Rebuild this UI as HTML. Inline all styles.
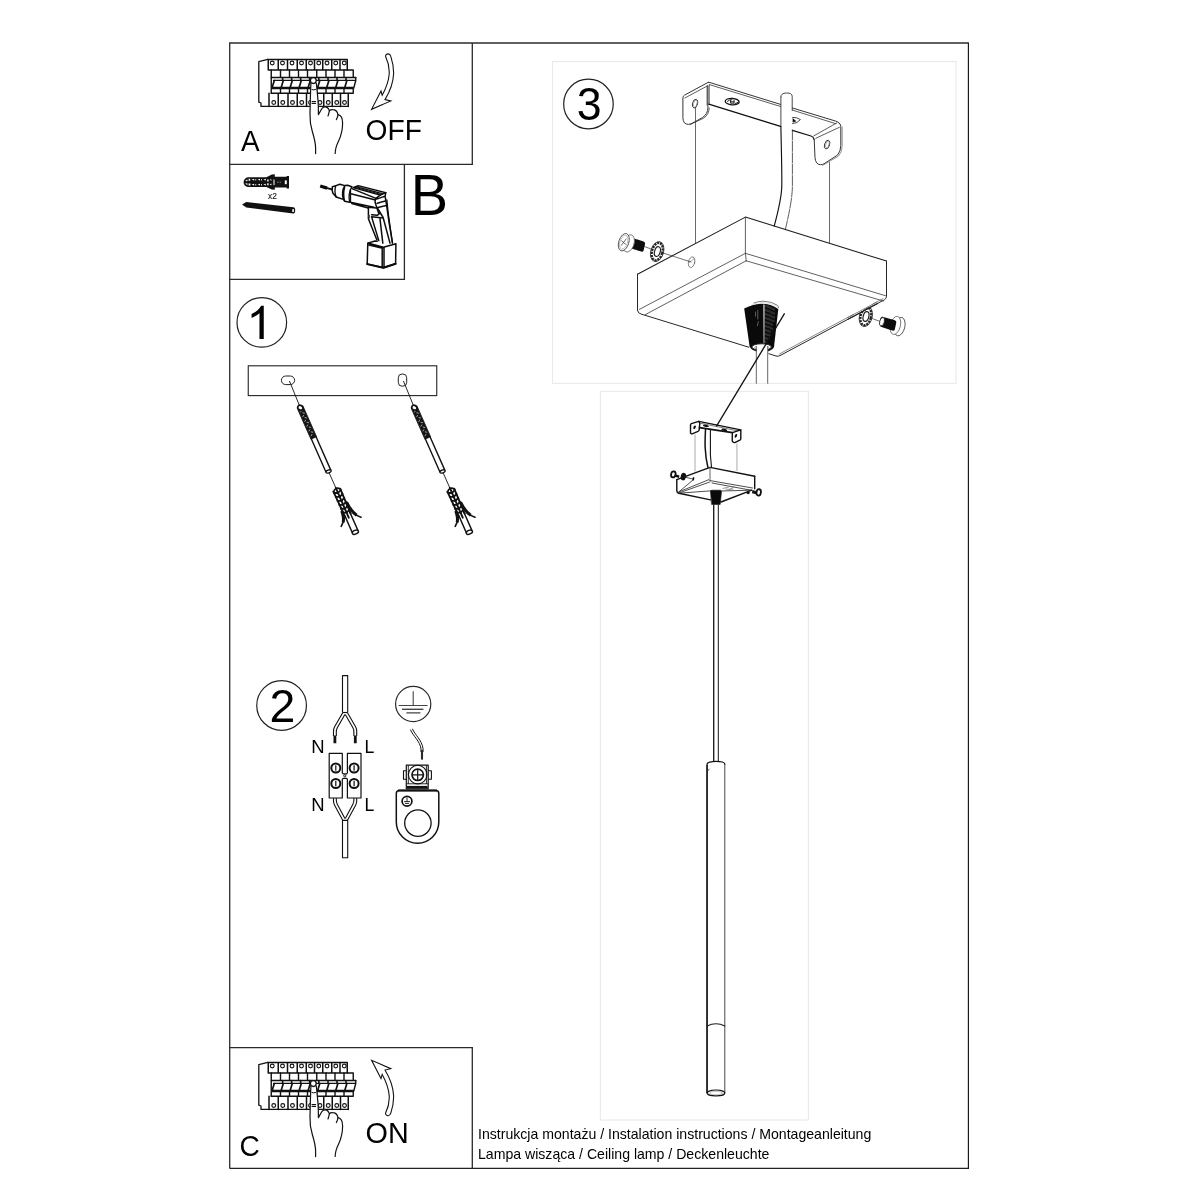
<!DOCTYPE html>
<html lang="pl">
<head>
<meta charset="utf-8">
<title>Instrukcja montażu</title>
<style>
html,body{margin:0;padding:0;background:#fff;}
body{width:1200px;height:1200px;position:relative;overflow:hidden;font-family:"Liberation Sans",sans-serif;color:#000;}
svg{position:absolute;left:0;top:0;will-change:transform;}
.t{will-change:transform;position:absolute;white-space:nowrap;line-height:1;font-family:"Liberation Sans",sans-serif;color:#000;}
</style>
</head>
<body>
<svg width="1200" height="1200" viewBox="0 0 1200 1200" font-family="Liberation Sans, sans-serif">


<!-- ===== FRAME ===== -->
<g id="frame" fill="none" stroke="#333" stroke-width="1.3">
<path d="M968.4 43H229.7V1168.4" stroke="#2c2c2c"/>
<path d="M229.7 1168.4H968.4" stroke="#222" stroke-width="1.25"/>
<path d="M968.4 42.4V1169" stroke="#141414" stroke-width="1.15"/>
<path d="M472.3 43V164.4H229.7 M404.4 164.4V279.3H229.7 M229.7 1047.6H472.3V1168.4" stroke="#2a2a2a"/>
<rect x="552.5" y="61.6" width="403.5" height="321.8" stroke="#e9e9e9" stroke-width="1.1"/>
<rect x="600.4" y="391.4" width="208" height="728.6" stroke="#e9e9e9" stroke-width="1.1"/>
</g>

<!-- ===== PANEL A ===== -->
<g id="panelA">
<text transform="translate(241.00 151.00) scale(0.2798 0.2873)" font-size="100">A</text>
<text transform="translate(365.58 139.84) scale(0.2818 0.2963)" font-size="100">OFF</text>

<g fill="none" stroke="#111" stroke-width="1" stroke-linejoin="round" stroke-linecap="round">
<path d="M267.8 59.4L258.8 61.6V102.2L261 103V106.4H348.2" stroke-width="1.3"/>
<path d="M267.8 59.4H347.25 M268.25 70H347.25 M268.25 59.4V70 M278.25 59.4V70 M287.50 59.4V70 M297.25 59.4V70 M306.25 59.4V70 M314.50 59.4V70 M322.75 59.4V70 M331.75 59.4V70 M340.00 59.4V70 M347.25 59.4V70" stroke-width="1.5"/>
<circle cx="272.25" cy="63" r="1.9" stroke-width="1.1"/>
<circle cx="282.50" cy="63" r="1.9" stroke-width="1.1"/>
<circle cx="292.00" cy="63" r="1.9" stroke-width="1.1"/>
<circle cx="301.50" cy="63" r="1.9" stroke-width="1.1"/>
<circle cx="310.50" cy="63" r="1.9" stroke-width="1.1"/>
<circle cx="318.75" cy="63" r="1.9" stroke-width="1.1"/>
<circle cx="327.00" cy="63" r="1.9" stroke-width="1.1"/>
<circle cx="335.75" cy="63" r="1.9" stroke-width="1.1"/>
<circle cx="344.25" cy="63" r="1.9" stroke-width="1.1"/>
<path d="M347.25 70H353.25 M271.25 77.5H355.75 M271.25 70V77.5 M280.50 70V77.5 M289.50 70V77.5 M298.50 70V77.5 M307.50 70V77.5 M316.75 70V77.5 M326.00 70V77.5 M335.00 70V77.5 M344.00 70V77.5 M353.25 70V77.5" stroke-width="1.4"/>
<path d="M271.25 77.5V93.3 M355.75 77.5V80.5L353.75 88" stroke-width="1.4"/>
<path d="M273.5 80.4H355.5" stroke-width="1.2"/>
<path d="M271.5 88H353.75" stroke-width="2.4" stroke-linecap="butt"/>
<path d="M282.60 77.5V80.4 M291.60 77.5V80.4 M300.60 77.5V80.4 M309.60 77.5V80.4 M318.80 77.5V80.4 M328.00 77.5V80.4 M337.00 77.5V80.4 M346.00 77.5V80.4" stroke-width="1.6"/>
<path d="M272.30 87L274.30 80.5 M281.30 87L283.30 80.5 M290.30 87L292.30 80.5 M299.30 87L301.30 80.5 M308.30 87L310.30 80.5 M317.80 87L319.80 80.5 M326.90 87L328.90 80.5 M335.90 87L337.90 80.5 M344.90 87L346.90 80.5" stroke-width="1.7"/>
<path d="M271.25 93.3H353.25V89 M280.50 89V93.3 M289.50 89V93.3 M298.50 89V93.3 M307.50 89V93.3 M316.75 89V93.3 M326.00 89V93.3 M335.00 89V93.3 M344.00 89V93.3" stroke-width="1.4"/>
<path d="M269 93.3V106.4 M278.25 93.6V106.4 M288.00 93.6V106.4 M297.25 93.6V106.4 M306.50 93.6V106.4 M323.75 93.6V106.4 M332.25 93.6V106.4 M340.50 93.6V106.4 M348.25 93.6V106.4" stroke-width="1.5"/>
<circle cx="273.75" cy="102.5" r="1.9" stroke-width="1.1"/>
<circle cx="282.75" cy="102.5" r="1.9" stroke-width="1.1"/>
<circle cx="292.50" cy="102.5" r="1.9" stroke-width="1.1"/>
<circle cx="301.75" cy="102.5" r="1.9" stroke-width="1.1"/>
<circle cx="320.00" cy="102.5" r="1.9" stroke-width="1.1"/>
<circle cx="328.25" cy="102.5" r="1.9" stroke-width="1.1"/>
<circle cx="336.75" cy="102.5" r="1.9" stroke-width="1.1"/>
<circle cx="344.50" cy="102.5" r="1.9" stroke-width="1.1"/>
<path d="M310.9 82.5C310.5 92 310.2 104 310 114C309.8 121 310.6 126 312.2 131C314 137 315.6 143 315.6 148V153.6L335.2 153.4C335.2 149 336.6 145 338.6 141C341 136 342.6 130 342.6 123C342.6 118 341 115.2 338 114.6C337.4 111.6 335.4 109.4 332.4 109.6C331 109.6 330 110 329.4 110.8C328.4 108 326.4 106.6 324.2 106.8C322.8 107 322 108 321.4 109.2L318.4 114.4L318.3 106C318 98 317 90 316.4 83" fill="#fff" stroke="none"/>
<path d="M310.9 83C310.5 92 310.2 104 310 114C309.8 121 310.6 126 312.2 131C314 137 315.6 143 315.6 148V153.6" stroke-width="1.2"/>
<path d="M316.3 83C317 90 318 98 318.3 106L318.4 114.6L321.6 109C322.4 107.6 323.4 106.8 324.6 106.8C326.8 106.6 328.6 108.2 329.4 110.8C329 112.6 328.6 114.4 328 116" stroke-width="1.2"/>
<path d="M329.4 110.8C330.2 109.8 331.2 109.5 332.6 109.6C335.4 109.6 337.4 111.8 338 114.6C337.8 116.4 337.2 118 336.4 119.6" stroke-width="1.2"/>
<path d="M338 114.6C341 115.2 342.6 118.4 342.6 123C342.6 130 341 136 338.6 141C336.6 145 335.2 149 335.2 153.4" stroke-width="1.2"/>
<circle cx="313.3" cy="80.6" r="2.9" fill="#fff" stroke-width="1.3"/>
<path d="M312 89.6Q313.7 90.3 315.6 89.5" stroke-width="1"/>
<path d="M312 101.6H315.6M312 103.5H315.6" stroke-width="1.1"/>
<path d="M310 100.6A2 2 0 0 0 310 104.4" stroke-width="1.1"/>
</g>
<path d="M385.6 56.6C385.4 54.6 387 53.8 388.2 53.9C389.6 54 390.4 55 390.8 56.4C392.6 62 393.8 68 393.6 74C393.2 83 389.6 92 385 99.6L390.8 100.9L371.6 109.3L381 91L382.2 95.2C385.6 89 388.6 82 389.2 74C389.6 68 388 61.6 385.6 56.6Z" fill="none" stroke="#111" stroke-width="1.1" stroke-linejoin="miter"/>
</g>

<!-- ===== PANEL B ===== -->
<g id="panelB">
<text transform="translate(410.63 215.25) scale(0.5595 0.5724)" font-size="100">B</text>
<text x="268.1" y="199.2" font-size="8.3" fill="#222" stroke="#222" stroke-width="0.15">x2</text>

<g id="plug" fill="#111" stroke="none" transform="translate(0 0.2)">
<path d="M243.6 182C243.6 179.4 245.4 177.4 248 177H266.4L271.8 174.4L274.8 174V176.6H286.6V175.8H289V188.2H286.6V187.4H274.8V189.6L271.8 189.4L266.4 186.9H248C245.4 186.6 243.6 184.6 243.6 182Z"/>
<g fill="#fff">
<rect x="273.3" y="179.3" width="1.4" height="5.6" fill="#bbb"/>
<rect x="284.8" y="180.2" width="2" height="3.8"/>
<path d="M245.2 180.8l2.2-1.8v2zM245.2 183.2l2.2 1.8v-2zM248.6 178.6h1.6v2h-1.6zM248.6 183.4h1.8v2h-1.8zM251.6 179.6l2.6-1v1.8zM251.6 184.4l2.6 1v-1.8zM255.4 178.8h.8v1.6h-.8zM255.4 183.8h.8v1.4h-.8zM257.6 179.6l2.4-1v1.8zM257.6 184.4l2.4 1v-1.8zM261.2 178.8h.8v1.6h-.8zM261.2 183.8h.8v1.4h-.8zM263.4 179.6l2.4-1v1.8zM263.4 184.4l2.4 1v-1.8zM267.2 179.2h1.4v2.2h-1.4zM267.2 183h1.4v2h-1.4zM269.6 179.6l1.8-.6v1.6zM269.6 184.4l1.8.6v-1.6z"/>
</g>
<path d="M277 181.3h.7v1.6h-.7zM278.6 181.3h.7v1.6h-.7zM280.2 181.3h.7v1.6h-.7z" fill="#777"/>
</g>
<g id="bscrew">
<path d="M242.2 204.4L246.2 202L293.4 207.2C294.6 207.4 295.1 208.2 295.1 209.4V211.6C295.1 212.8 294.4 213.5 293.2 213.4L246.4 207.4L242.2 204.8Z" fill="#111"/>
<rect x="292.3" y="209.1" width="1.6" height="2.9" fill="#fff"/>
</g>

<g id="drill" fill="none" stroke="#0c0c0c" stroke-width="1.5" stroke-linejoin="round" stroke-linecap="round">
<path d="M320.2 186L327 188.1" stroke-width="3.4" stroke-linecap="butt"/>
<path d="M327 188.1L332.2 189.4" stroke-width="1.8"/>
<!-- chuck -->
<path d="M332.4 186.8Q331.6 190 332.8 193L336.2 197L343.3 199.4L344.7 201.2L349.7 202.3 M332.4 186.8L335.9 185.6L339.8 184.2L344.7 185.6L347.6 185.3L351.8 186.7"/>
<path d="M335.9 185.6Q333.8 191 336.2 197 M344.7 185.6Q341 192 343.3 199.4 M344.7 187Q342.8 194 344.7 201.2 M351.8 186.7Q347.6 194 349.7 202.3" stroke-width="1.3"/>
<!-- body -->
<path d="M350.4 190V202.3L373.8 207.2 M351.8 203.6L368.1 207.9 M350.8 193.8L374.5 199.8 M352 188.6L375.9 198.4"/>
<path d="M353.2 187.7L358.2 185.6L385.8 192.7L380.2 195.2Z M356 186.6L383 193.9" stroke-width="1.4"/>
<path d="M354.6 187.2L381.6 194.6" stroke-width="1"/>
<!-- rear -->
<path d="M375.9 198.4L380.2 195.2 M385.8 192.7L385.1 196.2L386.5 204.7L389.4 224.6L392.5 243 M376.6 199.1L385.1 196.2 M377.3 203.3L385.8 200.8 M378 207.6L386.2 205.5 M375.9 198.4Q374.8 200.6 375.2 202.6L376.6 206.9L378.7 213.2"/>
<path d="M386.9 200L388.1 212.5L392.4 242.8" stroke-width="1.3"/>
<!-- handle -->
<path d="M368.4 206.9V218.7L376.9 240 M369.1 207.2L376.2 208.1L377.5 208.1L383.1 217.5L390 243.1 M371.6 214.7L377.5 215.3L380 213.1 M371.6 216.7L383.1 218.1 M371.6 216.9L378.8 240.6 M380 218.8L382.8 243.1"/>
<path d="M368.6 214.6L370 215V218.6L368.6 218.2Z" fill="#555" stroke="none"/>
<!-- battery -->
<path d="M367.8 243.1L367.2 264.1L383.4 267.8L395.6 263.8L395.9 243.7L383.4 247.2L367.8 243.1L375 241L377.2 241.2 M384 247.2V267.6 M382.2 247V267.4 M369 245L382.5 248.2"/>
<path d="M367.2 264.1L383.4 267.8L395.6 263.8" stroke-width="2"/>
</g>
</g>

<!-- ===== STEP 1 ===== -->
<g id="step1">
<circle cx="261.8" cy="322.4" r="24.8" fill="none" stroke="#222" stroke-width="1.2"/>
<path transform="translate(246.57 338.9) scale(0.02252 -0.02252)" d="M763 0H573V1147Q518 1085 412 1023Q307 961 223 930V1104Q374 1175 487 1276Q600 1377 647 1472H763Z"/>

<rect x="248.25" y="365.8" width="188.5" height="29.8" fill="none" stroke="#222" stroke-width="1.1"/>
<rect x="281.4" y="376" width="13.2" height="8.6" rx="4.3" ry="4.3" fill="none" stroke="#222" stroke-width="1"/>
<rect x="398.3" y="374" width="8.4" height="12.2" rx="3.8" ry="3.8" fill="none" stroke="#222" stroke-width="1"/>
<g fill="none" stroke="#111" stroke-width="1" stroke-linejoin="round" stroke-linecap="round">
<path d="M289.6 381.4L300.00 406.90 M328.31 470.92 L335.99 488.30" stroke-width="0.9"/>
<path d="M303.64 407.48 L316.58 436.74 L310.91 439.25 L297.97 409.98 Z" fill="#141414" stroke="#141414" stroke-width="0.8"/>
<path d="M301.43 410.64 L300.61 411.99 M302.85 412.86 L304.40 413.15 M303.54 415.40 L302.71 416.74 M304.95 417.61 L306.51 417.91 M305.64 420.15 L304.81 421.50 M307.06 422.37 L308.61 422.66 M307.74 424.91 L306.92 426.26 M309.16 427.12 L310.71 427.42 M309.85 429.66 L309.02 431.01 M311.26 431.88 L312.82 432.18 M311.95 434.42 L311.12 435.77" stroke="#ddd" stroke-width="0.7"/>
<ellipse cx="300.36" cy="407.72" rx="2.7" ry="2.3" transform="rotate(24 300.36 407.72)" fill="#fff" stroke="#141414" stroke-width="1.7"/>
<path d="M316.13 436.94 L330.68 469.87 M311.37 439.05 L325.93 471.97" stroke-width="1.4"/>
<ellipse cx="328.55" cy="471.47" rx="2.7" ry="1.4" transform="rotate(-20 328.55 471.47)" fill="#fff" stroke-width="1.3"/>
<path d="M349.65 511.78 L357.74 530.07 M344.97 516.04 L352.45 532.96" stroke-width="1.5"/>
<ellipse cx="355.40" cy="532.20" rx="3.2" ry="1.9" transform="rotate(-22 355.40 532.20)" fill="#fff" stroke-width="1.4"/>
<path d="M340.18 488.63 L350.64 513.53 M335.83 487.93 L348.75 517.65 M333.41 491.62 L345.19 517.03" stroke-width="1.9"/>
<path d="M340.34 489.00 Q335.18 486.47 333.57 491.99" stroke-width="1.7"/>
<path d="M340.79 490.00 L338.05 492.96 M334.02 493.00 L338.05 492.96 M342.53 493.94 L339.79 496.90 M335.76 496.93 L339.79 496.90 M344.27 497.87 L341.53 500.83 M337.50 500.86 L341.53 500.83 M346.00 501.80 L343.27 504.76 M339.24 504.79 L343.27 504.76 M347.74 505.74 L345.01 508.69 M340.97 508.73 L345.01 508.69 M349.48 509.67 L346.74 512.63 M342.71 512.66 L346.74 512.63" stroke-width="1.8"/>
<path d="M346.52 502.23 Q350.93 511.21 356.65 515.25" stroke-width="3" stroke-linecap="butt"/>
<path d="M353.42 513.39 Q356.89 515.79 361.03 517.24" stroke-width="1.7"/>
<path d="M341.72 510.91 Q344.28 517.44 343.15 522.31" stroke-width="3" stroke-linecap="butt"/>
<path d="M344.01 519.30 Q343.03 523.02 341.21 526.33" stroke-width="1.7"/>
</g>
<g fill="none" stroke="#111" stroke-width="1" stroke-linejoin="round" stroke-linecap="round" transform="translate(114 0)">
<path d="M289.6 381.4L300.00 406.90 M328.31 470.92 L335.99 488.30" stroke-width="0.9"/>
<path d="M303.64 407.48 L316.58 436.74 L310.91 439.25 L297.97 409.98 Z" fill="#141414" stroke="#141414" stroke-width="0.8"/>
<path d="M301.43 410.64 L300.61 411.99 M302.85 412.86 L304.40 413.15 M303.54 415.40 L302.71 416.74 M304.95 417.61 L306.51 417.91 M305.64 420.15 L304.81 421.50 M307.06 422.37 L308.61 422.66 M307.74 424.91 L306.92 426.26 M309.16 427.12 L310.71 427.42 M309.85 429.66 L309.02 431.01 M311.26 431.88 L312.82 432.18 M311.95 434.42 L311.12 435.77" stroke="#ddd" stroke-width="0.7"/>
<ellipse cx="300.36" cy="407.72" rx="2.7" ry="2.3" transform="rotate(24 300.36 407.72)" fill="#fff" stroke="#141414" stroke-width="1.7"/>
<path d="M316.13 436.94 L330.68 469.87 M311.37 439.05 L325.93 471.97" stroke-width="1.4"/>
<ellipse cx="328.55" cy="471.47" rx="2.7" ry="1.4" transform="rotate(-20 328.55 471.47)" fill="#fff" stroke-width="1.3"/>
<path d="M349.65 511.78 L357.74 530.07 M344.97 516.04 L352.45 532.96" stroke-width="1.5"/>
<ellipse cx="355.40" cy="532.20" rx="3.2" ry="1.9" transform="rotate(-22 355.40 532.20)" fill="#fff" stroke-width="1.4"/>
<path d="M340.18 488.63 L350.64 513.53 M335.83 487.93 L348.75 517.65 M333.41 491.62 L345.19 517.03" stroke-width="1.9"/>
<path d="M340.34 489.00 Q335.18 486.47 333.57 491.99" stroke-width="1.7"/>
<path d="M340.79 490.00 L338.05 492.96 M334.02 493.00 L338.05 492.96 M342.53 493.94 L339.79 496.90 M335.76 496.93 L339.79 496.90 M344.27 497.87 L341.53 500.83 M337.50 500.86 L341.53 500.83 M346.00 501.80 L343.27 504.76 M339.24 504.79 L343.27 504.76 M347.74 505.74 L345.01 508.69 M340.97 508.73 L345.01 508.69 M349.48 509.67 L346.74 512.63 M342.71 512.66 L346.74 512.63" stroke-width="1.8"/>
<path d="M346.52 502.23 Q350.93 511.21 356.65 515.25" stroke-width="3" stroke-linecap="butt"/>
<path d="M353.42 513.39 Q356.89 515.79 361.03 517.24" stroke-width="1.7"/>
<path d="M341.72 510.91 Q344.28 517.44 343.15 522.31" stroke-width="3" stroke-linecap="butt"/>
<path d="M344.01 519.30 Q343.03 523.02 341.21 526.33" stroke-width="1.7"/>
</g>
</g>

<!-- ===== STEP 2 ===== -->
<g id="step2">
<circle cx="281.6" cy="705.45" r="24.85" fill="none" stroke="#222" stroke-width="1.2"/>
<text transform="translate(269.57 721.90) scale(0.4640 0.4679)" font-size="100">2</text>

<g fill="none" stroke="#111" stroke-width="1.1" stroke-linecap="butt" stroke-linejoin="round">
<!-- top cable -->
<path d="M342.5 712.6V675.6H347.7V712.6"/>
<!-- split wires (double lines) -->
<path d="M342.5 712.5H347.7"/>
<path d="M342.7 712.8L334.6 726.8Q333.5 728.8 333.5 731V736 M344.9 714.4L337.3 727.8Q336.3 729.6 336.3 732V736"/>
<path d="M347.5 712.8L355.6 726.8Q356.7 728.8 356.7 731V736 M345.3 714.4L352.9 727.8Q353.9 729.6 353.9 732V736"/>
<path d="M334.9 735.4V743.2 M355.3 735.4V743.2" stroke-width="2.8"/>
<!-- connector block -->
<path d="M342.3 772.8V753.4H329.2V798H342.3V779.2L343.4 778.3H346.4L347.4 779.2V798H361V753.4H347.4V772.8L346.6 773.8H343.2Z" stroke-width="1.2"/>
<circle cx="344.8" cy="775.8" r="1.1" stroke-width="0.9"/>
<g stroke-width="2">
<circle cx="335.8" cy="768" r="4.5"/><circle cx="354.1" cy="768" r="4.5"/>
<circle cx="335.8" cy="783.5" r="4.5"/><circle cx="354.1" cy="783.5" r="4.5"/>
</g>
<path d="M335.8 765.2V770.8M354.1 765.2V770.8M335.8 780.7V786.3M354.1 780.7V786.3" stroke-width="1.2"/>
<!-- bottom wires -->
<path d="M333.5 798V801Q333.5 803.2 334.6 805.2L342.7 820.2 M336.3 798V800Q336.3 802.4 337.3 804.2L344.9 818.6"/>
<path d="M356.7 798V801Q356.7 803.2 355.6 805.2L347.5 820.2 M353.9 798V800Q353.9 802.4 352.9 804.2L345.3 818.6"/>
<path d="M342.5 857.7V820.4H347.7V857.7Z"/>
<!-- earth wire -->
<path d="M410.4 729.6C413 736 420 741 421 749V752 M412.4 728.8C415 735 421.8 740 423 748.4V752" stroke-width="1"/>
<path d="M422 750V759.6" stroke-width="2.1" stroke="#2a2a2a"/>
<!-- earth terminal -->
<rect x="406.3" y="765.2" width="21.9" height="23.6" stroke-width="1.2"/>
<path d="M406.3 770.7H403.5V779.2H406.3 M428.2 770.7H431.4V779.2H428.2" stroke-width="1.1"/>
<circle cx="417.7" cy="774.6" r="9.3" stroke-width="1.1"/>
<circle cx="417.7" cy="774.8" r="5.7" stroke-width="1.7"/>
<path d="M417.7 769.6V780M412.5 774.8H422.9" stroke-width="1.2"/>
<path d="M407 787.2H427.6" stroke-width="2.6"/>
<path d="M407 783.8H428" stroke-width="0.9"/>
<path d="M408.3 765.2V784M426.4 765.2V784" stroke-width="0.9"/>
<!-- lug -->
<path d="M399.4 790.4H435.8Q438.8 790.4 438.8 793.4V822A21.25 21.25 0 0 1 396.3 822V793.4Q396.3 790.4 399.4 790.4Z" stroke-width="1.5"/>
<path d="M398 790.4H437" stroke-width="2"/>
<circle cx="417.9" cy="823.1" r="13.2" stroke-width="1.3"/>
<circle cx="407" cy="801.2" r="4.9" stroke-width="1.7"/>
<path d="M407 797.6V801.4M404 801.6H410M405 803.4H409" stroke-width="0.9"/>
</g>
<!-- earth symbol -->
<g fill="none" stroke="#444" stroke-width="1.1">
<circle cx="413.2" cy="704" r="17.6" stroke="#2a2a2a" stroke-width="1.2"/>
<path d="M413.2 691.3V705.5M398.6 705.5H427.6M406.4 712.9H420.4"/>
<path d="M402 709.3H423.4" stroke-width="1.4"/>
</g>
<text transform="translate(311.26 752.70) scale(0.1849 0.1835)" font-size="100">N</text>
<text transform="translate(364.42 752.70) scale(0.1766 0.1835)" font-size="100">L</text>
<text transform="translate(311.26 811.40) scale(0.1849 0.1835)" font-size="100">N</text>
<text transform="translate(364.42 811.40) scale(0.1766 0.1835)" font-size="100">L</text>
</g>

<!-- ===== STEP 3 ===== -->
<g id="step3">
<circle cx="588.45" cy="104" r="24.8" fill="none" stroke="#222" stroke-width="1.2"/>
<text transform="translate(576.85 119.78) scale(0.4470 0.4626)" font-size="100">3</text>

<g fill="none" stroke="#333" stroke-width="0.9" stroke-linecap="round" stroke-linejoin="round">
<!-- guide lines -->
<path d="M695.5 107.5V242.8 M829.5 162.5V243" stroke="#444" stroke-width="0.8"/>
<!-- bracket: left tab -->
<path d="M708.3 82.3L684.4 95.2Q682.9 96 682.9 98V117.6Q683 124.6 688.6 124.3Q690.4 124.1 692 123.4L702.4 117.6Q707.9 114 707.9 107.6V86" stroke-width="1"/>
<path d="M707.6 85.8L684.9 98 M690 124.6L703.4 118.3Q709.2 114.6 709.2 107.8" stroke-width="0.8"/>
<path d="M707.1 86V105 M709.2 85V104.4" stroke-width="0.8"/>
<ellipse cx="695" cy="103.7" rx="2.5" ry="4.4" transform="rotate(14 695 103.7)" stroke-width="0.9"/>
<ellipse cx="695.3" cy="103.7" rx="1.7" ry="3.6" transform="rotate(14 695.3 103.7)" stroke-width="0.6" stroke="#888"/>
<!-- bracket: top plate -->
<path d="M708.3 82.3Q710 82.4 712 83.2L780.6 104.4 M792.4 108L835.4 121Q837.6 121.6 838.6 122.6" stroke-width="1"/>
<path d="M709.4 84.6L780.6 106.5 M792.4 110.1L835.8 123.7" stroke-width="0.8"/>
<path d="M708.8 104.2L780.5 126.3 M792.4 130.4L811 136Q813.6 136.8 814.2 139.6" stroke="#111" stroke-width="1.3"/>
<!-- bracket: right tab -->
<path d="M814.2 139.6L815 157.6Q815.6 164.6 820.6 164.7Q822.4 164.6 824 163.8L837.4 155.2Q840.8 151.6 840.8 145.4V126.4Q840.6 123.6 838.6 122.6" stroke-width="1"/>
<path d="M813.8 135.9L836.8 122.9 M815.8 138.3L839.4 127.3" stroke-width="0.8"/>
<path d="M822.6 165.4L838.4 156.2Q842.2 152.4 842.2 145.8V127" stroke-width="0.7" stroke="#666"/>
<ellipse cx="827.1" cy="144.6" rx="2.5" ry="4.5" transform="rotate(18 827.1 144.6)" stroke-width="0.9"/>
<ellipse cx="827.4" cy="144.6" rx="1.6" ry="3.6" transform="rotate(18 827.4 144.6)" stroke-width="0.6" stroke="#888"/>
<!-- slots -->
<ellipse cx="732.2" cy="101.6" rx="7" ry="3.2" transform="rotate(4 732.2 101.6)" stroke="#111" stroke-width="1.3"/>
<path d="M727.4 101.4Q729 99.6 732 99.6 M730.6 100.2V103.2H734V100.2 M730.6 101.8H734 M735 103.6Q737.6 103 738.4 101.8" stroke="#111" stroke-width="0.9"/>
<path d="M792.6 117.4Q797 117 800.4 119.6Q797.6 123.4 792.6 123.6" stroke-width="0.9"/>
<path d="M792.6 118L796.4 121.2L792.6 122.6Z" fill="#111" stroke="none"/>
<!-- cable -->
<path d="M780.9 97Q780.6 93.2 786.4 93T792.2 96.4V110.4" stroke-width="0.9"/>
<path d="M780.9 97V126.6" stroke-width="0.9"/>
<path d="M780.9 126.6C781.2 146 782 168 781.8 186C781.6 198 778 212 774.2 226.2" stroke="#111" stroke-width="1.15"/>
<path d="M792.4 130V186C792.4 198 789 214 785.4 229.2" stroke-width="0.8" stroke-dasharray="10 1.4"/>
<!-- canopy outer -->
<path d="M637.5 274.2L745.4 217.1L886.5 261.1" stroke="#1c1c1c" stroke-width="1.05"/>
<path d="M637.5 274.2V310Q637.6 313.2 641.2 314.1L748.8 347.2 M768.8 353.7L776 356Q778.4 356.6 780 355.6L884.4 299.8Q886.5 298.6 886.5 296.4V261.1" stroke="#262626" stroke-width="1"/>
<path d="M779.4 354L883 298.6" stroke="#555" stroke-width="0.7"/>
<!-- canopy inner -->
<path d="M745.4 217.1V253.3L746.2 260.8 M745.4 253.3L639.4 309.4 M746.2 260.8L645.3 314.6 M745.4 253.3L886 295.9 M746.2 260.8L883.4 301" stroke="#444" stroke-width="0.85"/>
<!-- hole in left face -->
<ellipse cx="691.6" cy="262.2" rx="3.1" ry="5.4" transform="rotate(14 691.6 262.2)" stroke="#666" stroke-width="0.8"/>
<path d="M688.8 262.8L694.2 258.6" stroke="#777" stroke-width="0.6"/>
<!-- screw guide lines -->
<path d="M644.6 246.6L650.6 248.8 M663 253L691 262" stroke="#333" stroke-width="0.7"/>
<path d="M872.4 318.6L880 321.4" stroke="#333" stroke-width="0.7"/>
<!-- gland cable below -->
<path d="M756.3 349V383.3 M767.7 349V383.3" stroke="#555" stroke-width="0.9"/>
</g>
<!-- left screw -->
<g id="scrL">
<path d="M633 238.2L643.6 241.4Q645.4 242.2 645 244.2L643.6 250.4Q643 252 641.2 251.6L631.4 248.4Z" fill="#0c0c0c"/>
<ellipse cx="628.8" cy="243.4" rx="5.2" ry="8.9" transform="rotate(18 628.8 243.4)" fill="#fff" stroke="#666" stroke-width="0.8"/>
<ellipse cx="623.8" cy="242.2" rx="5" ry="9" transform="rotate(18 623.8 242.2)" fill="#fff" stroke="#555" stroke-width="0.9"/>
<ellipse cx="623.7" cy="242.2" rx="3.7" ry="7.2" transform="rotate(18 623.7 242.2)" fill="none" stroke="#999" stroke-width="0.6"/>
<path d="M621.2 245.6L626.4 238.6 M621.4 240.6L625.8 244.4" stroke="#444" stroke-width="0.8"/>
</g>
<!-- left washer -->
<g id="wshL" fill="none">
<ellipse cx="657.2" cy="251.6" rx="5.2" ry="9" transform="rotate(16 657.2 251.6)" stroke="#222" stroke-width="2.4" stroke-dasharray="2.2 0.9"/>
<ellipse cx="657.2" cy="251.6" rx="6.4" ry="10.2" transform="rotate(16 657.2 251.6)" stroke="#333" stroke-width="0.8"/>
<ellipse cx="657.4" cy="251.6" rx="2.8" ry="5" transform="rotate(16 657.4 251.6)" stroke="#222" stroke-width="1.2"/>
</g>
<!-- right washer (partly hidden by canopy) -->
<g id="wshR" fill="none">
<ellipse cx="865.8" cy="316.5" rx="5.2" ry="9" transform="rotate(14 865.8 316.5)" stroke="#222" stroke-width="2.4" stroke-dasharray="2.2 0.9"/>
<ellipse cx="865.8" cy="316.5" rx="6.4" ry="10.2" transform="rotate(14 865.8 316.5)" stroke="#333" stroke-width="0.8"/>
<ellipse cx="866" cy="316.5" rx="2.8" ry="5" transform="rotate(14 866 316.5)" stroke="#222" stroke-width="1.2"/>
</g>
<path d="M850 303L873.6 303.4L854 316Z" fill="#fff"/>
<path d="M848 319.2L878 303.2" stroke="#222" stroke-width="1.1" fill="none"/>
<path d="M847.4 317.8L876.6 302.2" stroke="#555" stroke-width="0.7" fill="none"/>
<!-- right screw -->
<g id="scrR">
<ellipse cx="899.6" cy="326.6" rx="5.2" ry="9.4" transform="rotate(14 899.6 326.6)" fill="#fff" stroke="#555" stroke-width="0.9"/>
<ellipse cx="895.4" cy="325.4" rx="5" ry="9.2" transform="rotate(14 895.4 325.4)" fill="#fff" stroke="#666" stroke-width="0.8"/>
<path d="M882.6 316.8L894.8 320.2Q896.6 321 896.2 323L894.8 329.4Q894.2 331 892.4 330.6L880.8 326.8Q879.4 326 879.6 323.8L880.6 318.2Q881 316.6 882.6 316.8Z" fill="#0c0c0c"/>
<ellipse cx="882" cy="321.7" rx="2.3" ry="4.3" transform="rotate(14 882 321.7)" fill="#fff" stroke="#222" stroke-width="0.8"/>
</g>
<!-- gland -->
<g id="gland">
<path d="M744.2 308.5Q752 304.4 761 303.7Q771 303.6 778.3 309L774 347Q772.6 350 768 351.2H756.4Q751 350 749.6 346.5Z" fill="#0a0a0a"/>
<path d="M753.4 303.2Q758.6 301.2 763.2 301.2Q772 301.4 777.6 305.4Q778.6 306.4 778.3 308.2" fill="none" stroke="#555" stroke-width="0.8"/>
<path d="M751.6 304.6Q757.6 302.6 763.2 302.6Q771.6 302.8 776.6 306.2Q777.6 307 777.6 308.4" fill="none" stroke="#ddd" stroke-width="1"/>
<path d="M763.3 304.4L764.6 304.4L764.4 343.4L763.6 343.4Z" fill="#ddd"/>
<path d="M766 305V343 M768 305.6V340 M770 306.4V338 M772 307.4V330 M774 308.2V322" stroke="#999" stroke-width="0.5" fill="none" stroke-dasharray="2.4 1.6"/>
<path d="M757.8 310V319.4 M755.6 311.6V316.6 M758.4 321.4L757.4 326" stroke="#999" stroke-width="0.6" fill="none"/>
<ellipse cx="761.6" cy="347" rx="9.7" ry="3.2" fill="#fff" stroke="#222" stroke-width="0.9"/>
<ellipse cx="761.8" cy="347.6" rx="7" ry="2.1" fill="#fff" stroke="#777" stroke-width="0.6"/>
<rect x="756.7" y="345" width="11.3" height="7" fill="#fff"/>
<path d="M756.3 346V352 M767.7 346V352" stroke="#555" stroke-width="0.9"/>
</g>
<!-- leader line -->
<path d="M784.6 313.4L716.2 426.6" stroke="#111" stroke-width="1.3" fill="none"/>
</g>

<!-- ===== LAMP ===== -->
<g id="lamp">
<g fill="none" stroke="#111" stroke-linecap="round" stroke-linejoin="round">
<!-- guide lines -->
<path d="M695 434.6V471.4 M736.9 443.4V471" stroke="#c8c8c8" stroke-width="1.5" stroke-linecap="butt"/>
<!-- small bracket -->
<path d="M698.8 421.3L691.4 423.6Q690.5 424 690.5 425V432.4Q690.6 434 692.2 433.9L698 431.4Q699.2 430.8 699.2 429.6L699.8 423.4Z" fill="#fff" stroke-width="1.4"/>
<ellipse cx="694.6" cy="427.3" rx="1.1" ry="2" transform="rotate(25 694.6 427.3)" fill="#111" stroke="none"/>
<path d="M698.8 421.3L740.8 429.9" stroke-width="1.2"/>
<path d="M700.4 423.2L739.4 431.2" stroke-width="0.7" stroke="#444"/>
<path d="M699.4 427.6L732.4 432.6" stroke-width="1.6"/>
<path d="M732.4 432.6L732.2 440.2Q732.4 442.8 734.8 442.6L739.8 440.2Q740.8 439.6 740.8 438.4V429.9L732.4 432.6" fill="#fff" stroke-width="1.4"/>
<ellipse cx="735.9" cy="435.9" rx="1.1" ry="2" transform="rotate(25 735.9 435.9)" fill="#111" stroke="none"/>
<ellipse cx="705.9" cy="425.8" rx="3" ry="1.1" transform="rotate(12 705.9 425.8)" fill="#111" stroke="none"/>
<ellipse cx="724.3" cy="429.8" rx="3" ry="1.1" transform="rotate(12 724.3 429.8)" fill="#111" stroke="none"/>
<!-- cable to canopy -->
<path d="M705.5 429.2C705.3 436 704.8 442 705.2 448C705.5 455 706.6 462 707.9 467.4" stroke-width="1.5"/>
<path d="M710.4 429.4V455L711.5 467.2" stroke-width="1.1"/>
<!-- canopy -->
<path d="M676.8 479.7L710 467.4L754.7 476.2" stroke-width="1.4"/>
<path d="M676.8 479.7V490.6Q676.9 492.8 678.8 493.3L710.6 499.9 M721 502L751.8 490.2 M754.7 476.2V488.8" stroke-width="1.4"/>
<path d="M710 467.4V480.6" stroke="#555" stroke-width="0.9"/>
<path d="M678.6 492L708.7 479.7 M678.8 493L710 481.9 M679 493.2L711.4 490.8 M693.2 479.8L679.2 491.6" stroke-width="0.8" stroke="#222"/>
<path d="M710 480.6L752.6 488 M712 483L751 490.2 M721.6 491L751.6 490.2" stroke-width="0.8" stroke="#222"/>
<path d="M723 488.4L728.4 487.2 M729 490L734 486.8 M726 489.2H733" stroke-width="0.6" stroke="#555"/>
<!-- left screw + washer -->
<path d="M675.4 474.2L679.4 475.4L679 478L675 476.8Z" fill="#111" stroke="none"/>
<ellipse cx="673.3" cy="474.4" rx="2.2" ry="3" transform="rotate(14 673.3 474.4)" fill="#fff" stroke-width="1.8"/>
<ellipse cx="683.4" cy="476.6" rx="2.7" ry="3.8" transform="rotate(14 683.4 476.6)" fill="#111" stroke="none"/>
<path d="M686 477.4L693 479" stroke-width="0.7"/>
<ellipse cx="693.4" cy="478.8" rx="0.9" ry="1.9" transform="rotate(14 693.4 478.8)" fill="#111" stroke="none"/>
<!-- right screw -->
<ellipse cx="748.1" cy="492.8" rx="1.7" ry="1.4" fill="#111" stroke="none"/>
<path d="M752.4 490L757.6 491.4L757.2 494.6L752 493.2Z" fill="#111" stroke="none"/>
<ellipse cx="758.7" cy="492.4" rx="2.2" ry="3.2" transform="rotate(10 758.7 492.4)" fill="#fff" stroke-width="1.8"/>
<!-- gland -->
<path d="M710.5 491.6Q710.6 490.2 712 490.2H720Q721.4 490.2 721.5 491.6L720.2 504.4H711.8Z" fill="#0a0a0a" stroke="#0a0a0a" stroke-width="0.6"/>
<!-- rod -->
<path d="M713.7 504.6V761.4" stroke="#1a1a1a" stroke-width="1.35" stroke-linecap="butt"/>
<path d="M718.3 504.6V761.4" stroke="#111" stroke-width="1" stroke-linecap="butt"/>
<!-- tube -->
<path d="M707 1093V764.4Q707.1 762.6 709.6 762.1Q716 760.7 722.4 762Q724.7 762.5 724.8 764.2" stroke-width="1.2"/>
<path d="M707.1 765V1093" stroke-width="1.25" stroke-linecap="butt"/>
<path d="M724.8 764V1093" stroke="#333" stroke-width="0.9" stroke-linecap="butt"/>
<path d="M707.1 1026Q716 1021.6 724.8 1026" stroke-width="1.1" stroke="#1a1a1a"/>
<ellipse cx="716" cy="1092.9" rx="8.85" ry="2.9" stroke-width="1.2"/>
<ellipse cx="716" cy="1093.1" rx="6.6" ry="1.7" stroke="#999" stroke-width="0.6"/>
<path d="M708 770.4L709.2 769.4" stroke-width="0.8"/>
</g>
</g>

<!-- ===== PANEL C ===== -->
<g id="panelC">
<text transform="translate(239.48 1156.34) scale(0.2810 0.2936)" font-size="100">C</text>
<text transform="translate(365.55 1142.84) scale(0.2880 0.2963)" font-size="100">ON</text>

<g fill="none" stroke="#111" stroke-width="1" stroke-linejoin="round" stroke-linecap="round" transform="translate(0 1003)">
<path d="M267.8 59.4L258.8 61.6V102.2L261 103V106.4H348.2" stroke-width="1.3"/>
<path d="M267.8 59.4H347.25 M268.25 70H347.25 M268.25 59.4V70 M278.25 59.4V70 M287.50 59.4V70 M297.25 59.4V70 M306.25 59.4V70 M314.50 59.4V70 M322.75 59.4V70 M331.75 59.4V70 M340.00 59.4V70 M347.25 59.4V70" stroke-width="1.5"/>
<circle cx="272.25" cy="63" r="1.9" stroke-width="1.1"/>
<circle cx="282.50" cy="63" r="1.9" stroke-width="1.1"/>
<circle cx="292.00" cy="63" r="1.9" stroke-width="1.1"/>
<circle cx="301.50" cy="63" r="1.9" stroke-width="1.1"/>
<circle cx="310.50" cy="63" r="1.9" stroke-width="1.1"/>
<circle cx="318.75" cy="63" r="1.9" stroke-width="1.1"/>
<circle cx="327.00" cy="63" r="1.9" stroke-width="1.1"/>
<circle cx="335.75" cy="63" r="1.9" stroke-width="1.1"/>
<circle cx="344.25" cy="63" r="1.9" stroke-width="1.1"/>
<path d="M347.25 70H353.25 M271.25 77.5H355.75 M271.25 70V77.5 M280.50 70V77.5 M289.50 70V77.5 M298.50 70V77.5 M307.50 70V77.5 M316.75 70V77.5 M326.00 70V77.5 M335.00 70V77.5 M344.00 70V77.5 M353.25 70V77.5" stroke-width="1.4"/>
<path d="M271.25 77.5V93.3 M355.75 77.5V80.5L353.75 88" stroke-width="1.4"/>
<path d="M273.5 80.4H355.5" stroke-width="1.2"/>
<path d="M271.5 88H353.75" stroke-width="2.4" stroke-linecap="butt"/>
<path d="M282.60 77.5V80.4 M291.60 77.5V80.4 M300.60 77.5V80.4 M309.60 77.5V80.4 M318.80 77.5V80.4 M328.00 77.5V80.4 M337.00 77.5V80.4 M346.00 77.5V80.4" stroke-width="1.6"/>
<path d="M272.30 87L274.30 80.5 M281.30 87L283.30 80.5 M290.30 87L292.30 80.5 M299.30 87L301.30 80.5 M308.30 87L310.30 80.5 M317.80 87L319.80 80.5 M326.90 87L328.90 80.5 M335.90 87L337.90 80.5 M344.90 87L346.90 80.5" stroke-width="1.7"/>
<path d="M271.25 93.3H353.25V89 M280.50 89V93.3 M289.50 89V93.3 M298.50 89V93.3 M307.50 89V93.3 M316.75 89V93.3 M326.00 89V93.3 M335.00 89V93.3 M344.00 89V93.3" stroke-width="1.4"/>
<path d="M269 93.3V106.4 M278.25 93.6V106.4 M288.00 93.6V106.4 M297.25 93.6V106.4 M306.50 93.6V106.4 M323.75 93.6V106.4 M332.25 93.6V106.4 M340.50 93.6V106.4 M348.25 93.6V106.4" stroke-width="1.5"/>
<circle cx="273.75" cy="102.5" r="1.9" stroke-width="1.1"/>
<circle cx="282.75" cy="102.5" r="1.9" stroke-width="1.1"/>
<circle cx="292.50" cy="102.5" r="1.9" stroke-width="1.1"/>
<circle cx="301.75" cy="102.5" r="1.9" stroke-width="1.1"/>
<circle cx="320.00" cy="102.5" r="1.9" stroke-width="1.1"/>
<circle cx="328.25" cy="102.5" r="1.9" stroke-width="1.1"/>
<circle cx="336.75" cy="102.5" r="1.9" stroke-width="1.1"/>
<circle cx="344.50" cy="102.5" r="1.9" stroke-width="1.1"/>
<path d="M310.9 82.5C310.5 92 310.2 104 310 114C309.8 121 310.6 126 312.2 131C314 137 315.6 143 315.6 148V153.6L335.2 153.4C335.2 149 336.6 145 338.6 141C341 136 342.6 130 342.6 123C342.6 118 341 115.2 338 114.6C337.4 111.6 335.4 109.4 332.4 109.6C331 109.6 330 110 329.4 110.8C328.4 108 326.4 106.6 324.2 106.8C322.8 107 322 108 321.4 109.2L318.4 114.4L318.3 106C318 98 317 90 316.4 83" fill="#fff" stroke="none"/>
<path d="M310.9 83C310.5 92 310.2 104 310 114C309.8 121 310.6 126 312.2 131C314 137 315.6 143 315.6 148V153.6" stroke-width="1.2"/>
<path d="M316.3 83C317 90 318 98 318.3 106L318.4 114.6L321.6 109C322.4 107.6 323.4 106.8 324.6 106.8C326.8 106.6 328.6 108.2 329.4 110.8C329 112.6 328.6 114.4 328 116" stroke-width="1.2"/>
<path d="M329.4 110.8C330.2 109.8 331.2 109.5 332.6 109.6C335.4 109.6 337.4 111.8 338 114.6C337.8 116.4 337.2 118 336.4 119.6" stroke-width="1.2"/>
<path d="M338 114.6C341 115.2 342.6 118.4 342.6 123C342.6 130 341 136 338.6 141C336.6 145 335.2 149 335.2 153.4" stroke-width="1.2"/>
<circle cx="313.3" cy="80.6" r="2.9" fill="#fff" stroke-width="1.3"/>
<path d="M312 89.6Q313.7 90.3 315.6 89.5" stroke-width="1"/>
<path d="M312 101.6H315.6M312 103.5H315.6" stroke-width="1.1"/>
<path d="M310 100.6A2 2 0 0 0 310 104.4" stroke-width="1.1"/>
</g>
<g transform="translate(0 1169.6) scale(1 -1)"><path d="M385.6 56.6C385.4 54.6 387 53.8 388.2 53.9C389.6 54 390.4 55 390.8 56.4C392.6 62 393.8 68 393.6 74C393.2 83 389.6 92 385 99.6L390.8 100.9L371.6 109.3L381 91L382.2 95.2C385.6 89 388.6 82 389.2 74C389.6 68 388 61.6 385.6 56.6Z" fill="none" stroke="#111" stroke-width="1.1" stroke-linejoin="miter"/></g>
</g>
</svg>

<div class="t" style="left:478.3px;top:1127.4px;font-size:14.1px;">Instrukcja montażu / Instalation instructions / Montageanleitung</div>
<div class="t" style="left:478.3px;top:1146.9px;font-size:14.1px;">Lampa wisząca / Ceiling lamp / Deckenleuchte</div>
</body>
</html>
